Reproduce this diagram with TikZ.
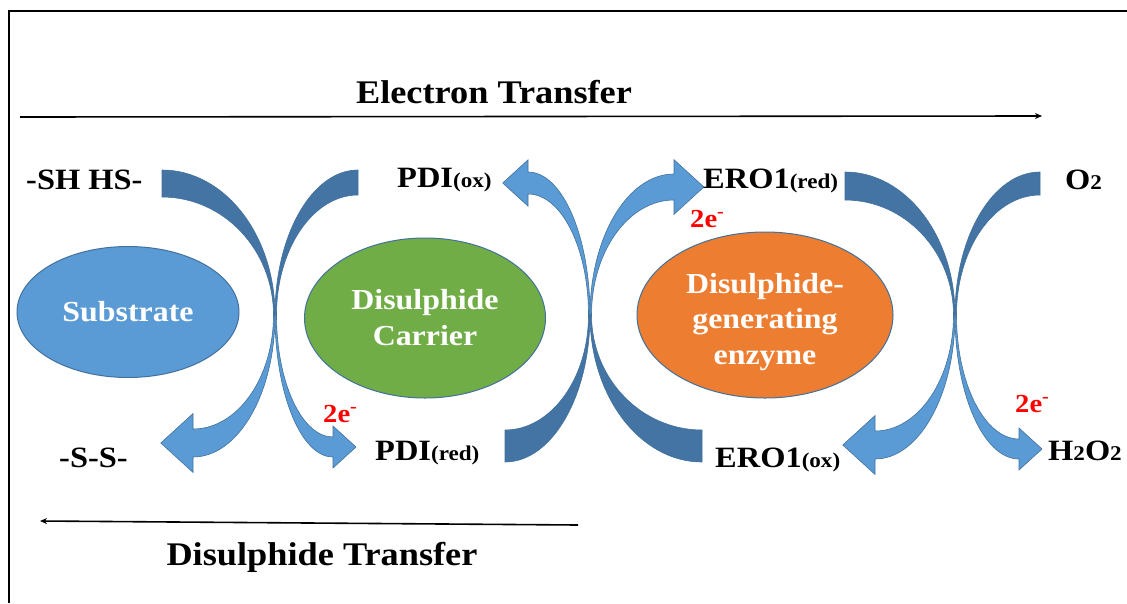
\documentclass[tikz,border=0pt]{standalone}
\usepackage{fontspec}
\setmainfont{Liberation Serif}[FakeStretch=1.1]
\usetikzlibrary{arrows.meta,shapes.geometric}
\definecolor{lightblue}{RGB}{91,155,213}
\definecolor{darkblue}{RGB}{68,116,164}
\definecolor{edgeblue}{RGB}{65,113,156}
\definecolor{leafgreen}{RGB}{112,173,71}
\definecolor{tangerine}{RGB}{237,125,49}
\definecolor{elecred}{RGB}{255,0,0}
\newcommand\subf{\fontsize{21}{21}\selectfont}
% curved block arrow: #1 transform, #2 tail dist, #3 tail height, #4 tail width,
% #5 neck dist, #6 head centre height, #7 shaft width at neck
\newcommand\CArrow[7]{%
  \begin{scope}[#1]
    \pgfmathsetmacro\rA{#2-1.5}\pgfmathsetmacro\rB{#3-#4}%
    \pgfmathsetmacro\hO{#6+#7/2}\pgfmathsetmacro\hI{#6-#7/2}%
    \pgfmathsetmacro\rC{#5-1.5}%
    \pgfmathsetmacro\eb{0.55*#7}\pgfmathsetmacro\arlen{1.15*#7}%
    \pgfmathsetmacro\tipx{-#5-\arlen}\pgfmathsetmacro\ub{\hI-\eb}%
    \filldraw[arrdark] (-#2,-#3) arc[start angle=-90,end angle=0,x radius=#2,y radius=#3]
      -- (-1.5,0) arc[start angle=0,end angle=-90,x radius=\rA,y radius=\rB] -- cycle;
    \filldraw[arrlight] (0,0) arc[start angle=0,end angle=90,x radius=#5,y radius=\hO]
      -- ++(0,\eb) -- (\tipx,#6) -- (-#5,\ub) -- (-#5,\hI)
      arc[start angle=90,end angle=0,x radius=\rC,y radius=\hI] -- cycle;
  \end{scope}}
\begin{document}
\begin{tikzpicture}[x=1pt,y=-1pt,
  arrdark/.style={fill=darkblue,draw=edgeblue,line width=0.6pt},
  arrlight/.style={fill=lightblue,draw=edgeblue,line width=0.6pt},
  lbl/.style={font=\bfseries\fontsize{29.5}{34}\selectfont,anchor=base west,inner sep=0pt},
  elec/.style={font=\bfseries\fontsize{26}{30}\selectfont,text=elecred,anchor=base west,inner sep=0pt},
  ttl/.style={font=\bfseries\fontsize{33}{38}\selectfont,anchor=base,inner sep=0pt},
  blob/.style={ellipse,draw=edgeblue,line width=1pt,text=white,align=center,inner sep=0pt,
    font=\bfseries\fontsize{29}{36}\selectfont},
  blobtext/.style={text=white,align=center,inner sep=0pt,
    font=\bfseries\fontsize{29}{35.5}\selectfont},
  flow/.style={line width=1.6pt,-{Stealth[length=7pt,width=6pt]}}]
\useasboundingbox (0,0) rectangle (1127,603);
\fill[white] (0,0) rectangle (1127,603);
% frame
\draw[line width=2pt] (9,603) -- (9,11) -- (1127,11);
% ellipses
\node[blob,fill=lightblue,minimum width=222pt,minimum height=131pt] (sub) at (128,312) {Substrate};
\node[blob,fill=leafgreen,minimum width=241pt,minimum height=160pt] (car) at (425,318) {Disulphide\\Carrier};
\node[blob,fill=tangerine,minimum width=256pt,minimum height=166pt] (enz) at (765,315) {};
\node[blobtext] (enzt) at ([yshift=-7pt]enz.center) {Disulphide-\\generating\\enzyme};
% curved arrows
\CArrow{shift={(275,315)}}{113}{145}{27}{82}{128}{28}
\CArrow{shift={(275,315)},xscale=-1}{83}{145}{25}{58}{132}{20}
\CArrow{shift={(590,315)},yscale=-1}{85}{147}{32}{62}{132}{22}
\CArrow{shift={(590,315)},xscale=-1,yscale=-1}{112}{147}{32}{84}{128}{26}
\CArrow{shift={(955,315)}}{110}{143}{28}{80}{130}{28}
\CArrow{shift={(955,315)},xscale=-1}{85}{143}{23}{64}{134}{20}
% labels
\node[lbl] (sh) at (26,189) {-SH HS-};
\node[lbl] (pdiox) at (397,187) {PDI{\subf(ox)}};
\node[lbl] (erored) at (703,188) {ERO1{\subf(red)}};
\node[lbl] (o2) at (1065,189) {O{\subf 2}};
\node[lbl] (ss) at (59,467) {-S-S-};
\node[lbl] (pdired) at (375,460) {PDI{\subf(red)}};
\node[lbl] (eroox) at (715,467) {ERO1{\subf(ox)}};
\node[lbl] (h2o2) at (1048,460) {H{\subf 2}O{\subf 2}};
\node[elec] (ea) at (323,422) {2e\textsuperscript{-}};
\node[elec] (eb) at (690,227) {2e\textsuperscript{-}};
\node[elec] (ec) at (1015,412) {2e\textsuperscript{-}};
% transfer directions
\node[ttl] (et) at (494,103) {Electron Transfer};
\node[ttl] (dt) at (322,565) {Disulphide Transfer};
\coordinate (etS) at (20,117);
\coordinate (etE) at (1042,116);
\coordinate (dtS) at (578,525);
\coordinate (dtE) at (40,521);
\draw[flow] (etS) -- (etE);
\draw[flow] (dtS) -- (dtE);
\end{tikzpicture}
\end{document}
